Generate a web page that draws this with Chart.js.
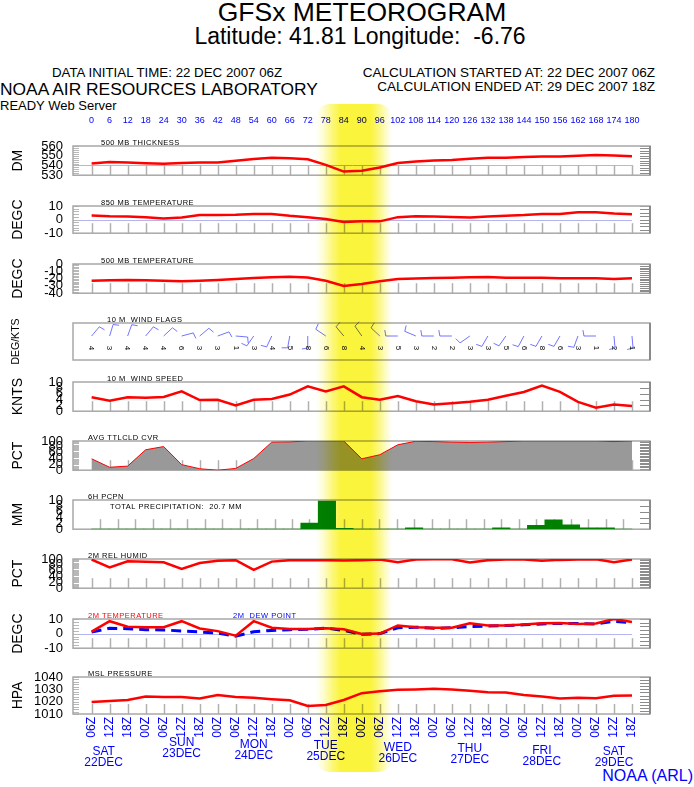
<!DOCTYPE html>
<html>
<head>
<meta charset="utf-8">
<title>GFSx METEOROGRAM</title>
<script src="https://cdn.jsdelivr.net/npm/chart.js@4.4.1/dist/chart.umd.min.js"></script>
<style>
  html, body { margin: 0; padding: 0; background: #fff; overflow: hidden; }
  #page { position: relative; width: 694px; height: 787px; overflow: hidden; font-family: "Liberation Sans", Arial, Helvetica, sans-serif; }
  .t { position: absolute; white-space: nowrap; line-height: 1; color: #000; }
  .panel { position: absolute; left: 0; width: 694px; }
  #band {
    position: absolute; left: 316px; width: 76px; top: 104px; height: 668px;
    border-radius: 14px; mix-blend-mode: multiply; pointer-events: none; z-index: 5;
    background: linear-gradient(to right, rgba(250,244,60,0) 0%, rgba(250,244,60,0.25) 10%, rgba(250,244,60,0.7) 22%, rgba(250,244,60,1) 33%, rgba(250,244,60,1) 72%, rgba(250,244,60,0.6) 84%, rgba(250,244,60,0.2) 94%, rgba(250,244,60,0) 100%);
  }
</style>
</head>
<body>
<div id="page">
  <div class="t" style="left:0;width:724px;text-align:center;top:-1px;font-size:26.5px;">GFSx METEOROGRAM</div>
  <div class="t" style="left:0;width:720px;text-align:center;top:24.5px;font-size:23px;">Latitude: 41.81 Longitude:&nbsp; -6.76</div>
  <div class="t" style="left:52px;top:65.5px;font-size:13.3px;">DATA INITIAL TIME: 22 DEC 2007 06Z</div>
  <div class="t" style="left:0;top:80.5px;font-size:17.4px;">NOAA AIR RESOURCES LABORATORY</div>
  <div class="t" style="left:0;top:98.5px;font-size:13px;">READY Web Server</div>
  <div class="t" style="right:39px;top:65.5px;font-size:13.5px;">CALCULATION STARTED AT: 22 DEC 2007 06Z</div>
  <div class="t" style="right:39px;top:79.5px;font-size:13.5px;">CALCULATION ENDED AT: 29 DEC 2007 18Z</div>
  <div class="t" style="right:1px;top:768px;font-size:16px;color:#0000ff;">NOAA (ARL)</div>
  <div id="band"></div>
</div>
<script>
// forecast hours, every 6 h from 22 DEC 06Z
const HOURS = [0, 6, 12, 18, 24, 30, 36, 42, 48, 54, 60, 66, 72, 78, 84, 90, 96, 102, 108, 114, 120, 126, 132, 138, 144, 150, 156, 162, 168, 174, 180];
const Z_LABELS = ["06Z", "12Z", "18Z", "00Z", "06Z", "12Z", "18Z", "00Z", "06Z", "12Z", "18Z", "00Z", "06Z", "12Z", "18Z", "00Z",
  "06Z", "12Z", "18Z", "00Z", "06Z", "12Z", "18Z", "00Z", "06Z", "12Z", "18Z", "00Z", "06Z", "12Z", "18Z"];
const DAY_NAMES = ["SAT", "SUN", "MON", "TUE", "WED", "THU", "FRI", "SAT"];
const DAY_DATES = ["22DEC", "23DEC", "24DEC", "25DEC", "26DEC", "27DEC", "28DEC", "29DEC"];
const DAY_HOURS = [4, 30, 54, 78, 102, 126, 150, 174];

const THICKNESS = [542.0, 543.6, 543.0, 542.2, 541.7, 542.5, 543.0, 543.0, 544.8, 546.7, 547.8, 547.5, 546.4, 540.6, 533.7,
  534.5, 538.0, 542.5, 544.0, 545.1, 545.6, 547.0, 547.8, 547.9, 548.6, 549.2, 549.2, 550.0, 550.7, 550.3, 549.5];
const T850 = [3.1, 2.4, 2.2, 1.8, 0.8, 1.6, 3.3, 3.3, 3.5, 4.1, 4.1, 2.8, 1.8, 0.5, -1.7,
  -1.3, -1.3, 1.8, 2.5, 2.3, 1.9, 1.6, 2.2, 2.8, 3.3, 4.1, 4.1, 5.4, 5.4, 4.5, 3.9];
const T500 = [-22.9, -22.2, -21.8, -22.2, -22.9, -23.6, -22.9, -21.8, -20.4, -19.3, -18.2, -17.5, -18.5, -22.9, -30.2,
  -27.3, -23.6, -20.7, -20.0, -19.3, -18.9, -18.2, -17.8, -18.9, -18.9, -18.9, -19.6, -19.6, -19.6, -20.7, -19.6];
const WIND_DIR = [40, 17, 20, 40, 47, 75, 50, 70, 95, 215, 205, 190, 180, 304, 320,
  325, 313, 270, 293, 270, 270, 235, 210, 215, 208, 210, 210, 200, 270, 175, 175];
const WIND_FLAG_LABELS = [4, 3, 4, 4, 4, 6, 3, 3, 1, 3, 4, 5, 8, 6, 8,
  4, 3, 5, 3, 2, 2, 3, 3, 5, 6, 8, 6, 3, 1, 2, 1];
const WIND_SPEED = [4.8, 3.6, 4.8, 4.6, 4.9, 6.8, 3.8, 3.9, 2.0, 3.9, 4.2, 5.7, 8.5, 6.8, 8.5,
  4.8, 3.9, 5.2, 3.4, 2.3, 2.7, 3.2, 3.9, 5.3, 6.6, 8.8, 6.6, 3.2, 1.2, 2.3, 1.8];
const CLOUD = [39, 10, 14, 70, 81, 19, 5, 0, 6, 40, 96, 97, 100, 100, 100,
  39, 53, 87, 99, 98, 96, 95, 96, 98, 100, 100, 100, 100, 100, 98, 100];
const PRECIP = [0, 0, 0, 0, 0, 0, 0, 0, 0, 0, 0, 0, 2.1, 9.6, 0.3,
  0, 0, 0, 0.5, 0, 0, 0, 0, 0.5, 0, 1.35, 3.2, 1.5, 0.5, 0.5, 0];
const RH = [98, 71, 92, 91, 89, 66, 86, 94, 96, 63, 91, 96, 96, 96, 95,
  96, 98, 89, 98, 99, 99, 88, 96, 98, 98, 94, 97, 98, 99, 89, 98];
const TEMP_2M = [1.3, 8.5, 4.7, 4.4, 4.4, 8.5, 3.5, 1.7, -1.4, 8.5, 4.0, 3.1, 3.1, 3.6, 3.0,
  -0.2, 0.0, 5.6, 4.4, 4.0, 4.0, 7.1, 5.5, 5.6, 6.2, 7.1, 7.3, 6.6, 6.9, 10.0, 8.0];
const DEW_2M = [1.0, 3.6, 3.4, 2.7, 2.5, 1.8, 1.1, 0.4, -1.8, 1.3, 2.2, 2.7, 2.9, 3.8, 2.2,
  -0.5, 0.0, 4.0, 4.4, 3.6, 4.0, 4.9, 5.2, 5.5, 6.0, 6.6, 7.0, 6.9, 6.6, 8.5, 7.4];
const MSLP = [1019.8, 1020.6, 1021.4, 1024.1, 1023.8, 1023.8, 1022.5, 1025.3, 1023.8, 1023.1, 1022.0, 1021.2, 1016.5, 1017.3, 1021.4,
  1026.9, 1028.5, 1029.6, 1029.9, 1030.4, 1029.9, 1028.8, 1027.7, 1027.4, 1025.5, 1024.1, 1022.5, 1023.1, 1022.8, 1024.7, 1025.0];

const FONT = '"Liberation Sans", Arial, Helvetica, sans-serif';
const BLUE = "#0000ff";
const RED = "#ff0000";
// vertical drop of the weekday labels below the last frame (they are staggered)
const DAY_DROP = [37.5, 29, 31, 31.5, 34, 35, 37, 38];

const pts = (arr) => HOURS.map((h, i) => ({ x: h, y: arr[i] }));
const redLine = (arr) => ({ data: pts(arr), borderColor: RED, borderWidth: 2.5, pointRadius: 0, tension: 0, fill: false });

function deco(cfg) {
  return {
    id: "deco",
    beforeDatasetsDraw(chart) {
      const { ctx, chartArea: a, scales: { x, y } } = chart;
      ctx.save();
      if (cfg.ref !== undefined) {
        const ry = Math.round(y.getPixelForValue(cfg.ref)) + 0.5;
        ctx.strokeStyle = "#b4b4ee";
        ctx.lineWidth = 1;
        ctx.beginPath();
        ctx.moveTo(a.left, ry);
        ctx.lineTo(x.getPixelForValue(180), ry);
        ctx.stroke();
      }
      if (cfg.hourTicks !== false) {
        ctx.strokeStyle = "#b0b0b0";
        ctx.lineWidth = 1.5;
        HOURS.forEach((h) => {
          const px = Math.round(x.getPixelForValue(h)) + 0.5;
          ctx.beginPath();
          ctx.moveTo(px, a.bottom);
          ctx.lineTo(px, a.bottom - 10);
          ctx.stroke();
        });
      }
      const side = (step, x0, len, color) => {
        if (!step) return;
        ctx.strokeStyle = color;
        ctx.lineWidth = 1;
        for (let v = cfg.min; v <= cfg.max + 1e-6; v += step) {
          const py = Math.round(y.getPixelForValue(v)) + 0.5;
          ctx.beginPath();
          ctx.moveTo(x0, py);
          ctx.lineTo(x0 + len, py);
          ctx.stroke();
        }
      };
      side(cfg.leftMinor, a.left, 6, "#b8b8b8");
      side(cfg.rightMinor, a.right - 10, 10, "#8c8c8c");
      ctx.strokeStyle = "#a8a8a8";
      ctx.lineWidth = 1.5;
      ctx.strokeRect(a.left, a.top, a.right - a.left, a.bottom - a.top);
      ctx.strokeStyle = "#8a8a8a";
      ctx.lineWidth = 2;
      ctx.beginPath();
      ctx.moveTo(a.right, a.top);
      ctx.lineTo(a.right, a.bottom);
      ctx.stroke();
      ctx.restore();
    },
    afterDatasetsDraw(chart) {
      const { ctx, chartArea: a, scales: { x } } = chart;
      ctx.save();
      ctx.textBaseline = "alphabetic";
      ctx.textAlign = "left";
      ctx.letterSpacing = "0.5px";
      (cfg.labels || []).forEach((l) => {
        ctx.fillStyle = l.color || "#000";
        ctx.font = (l.size || 7.5) + "px " + FONT;
        ctx.fillText(l.text, a.left + l.dx, a.top + l.dy);
      });
      ctx.letterSpacing = "0px";

      if (cfg.topHours) {
        ctx.font = "9px " + FONT;
        ctx.fillStyle = BLUE;
        ctx.textAlign = "center";
        ctx.textBaseline = "middle";
        HOURS.forEach((h) => ctx.fillText(String(h), x.getPixelForValue(h), a.top - 25));
      }

      if (cfg.winds) {
        ctx.strokeStyle = "rgba(70,70,255,0.75)";
        ctx.lineWidth = 1;
        HOURS.forEach((h, i) => {
          const bx = x.getPixelForValue(h), by = a.top + 13;
          const t = WIND_DIR[i] * Math.PI / 180;
          const ex = bx + 12 * Math.sin(t), ey = by - 12 * Math.cos(t);
          const t2 = t + 80 * Math.PI / 180;
          ctx.beginPath();
          ctx.moveTo(bx, by);
          ctx.lineTo(ex, ey);
          ctx.lineTo(ex + 6 * Math.sin(t2), ey - 6 * Math.cos(t2));
          ctx.stroke();
        });
        ctx.fillStyle = "#000";
        ctx.font = "8px " + FONT;
        ctx.textAlign = "center";
        ctx.textBaseline = "middle";
        HOURS.forEach((h, i) => {
          ctx.save();
          ctx.translate(x.getPixelForValue(h), a.top + 25);
          ctx.rotate(Math.PI / 2);
          ctx.fillText(String(WIND_FLAG_LABELS[i]), 0, 0);
          ctx.restore();
        });
      }

      if (cfg.days) {
        ctx.fillStyle = BLUE;
        ctx.font = "12px " + FONT;
        ctx.textAlign = "center";
        ctx.textBaseline = "middle";
        DAY_HOURS.forEach((h, i) => {
          const px = x.getPixelForValue(h);
          ctx.fillText(DAY_NAMES[i], px, a.bottom + DAY_DROP[i]);
          ctx.fillText(DAY_DATES[i], px, a.bottom + DAY_DROP[i] + 11);
        });
      }
      ctx.restore();
    },
  };
}

function makePanel(cfg) {
  const padTop = cfg.padTop || 22;
  const bottom = cfg.bottom || 10;
  const div = document.createElement("div");
  div.className = "panel";
  div.style.top = cfg.top - padTop + "px";
  div.style.height = padTop + cfg.h + bottom + "px";
  const canvas = document.createElement("canvas");
  div.appendChild(canvas);
  document.getElementById("page").appendChild(div);

  return new Chart(canvas, {
    type: cfg.type || "line",
    data: { datasets: cfg.datasets || [] },
    options: {
      responsive: true,
      maintainAspectRatio: false,
      animation: false,
      events: [],
      layout: { padding: { top: padTop, right: 44, bottom: cfg.xLabels ? 0 : bottom, left: 0 } },
      plugins: { legend: { display: false }, tooltip: { enabled: false } },
      scales: {
        x: {
          type: "linear",
          min: -6.2,
          max: 186,
          display: !!cfg.xLabels,
          afterBuildTicks: (s) => { s.ticks = HOURS.map((v) => ({ value: v })); },
          afterFit: (s) => { if (cfg.xLabels) s.height = bottom; },
          grid: { display: false, drawTicks: false },
          border: { display: false },
          ticks: {
            autoSkip: false, minRotation: 90, maxRotation: 90, padding: 3, color: BLUE,
            font: { size: 12, family: FONT }, callback: (v, i) => Z_LABELS[i],
          },
        },
        y: {
          type: "linear",
          min: cfg.min,
          max: cfg.max,
          afterFit: (s) => { s.width = 73; },
          grid: { display: false, drawTicks: false },
          border: { display: false },
          ticks: {
            display: cfg.step !== undefined, stepSize: cfg.step, autoSkip: false, padding: 10,
            color: "#000", font: { size: 13, family: FONT }, callback: (v) => String(v),
          },
          title: {
            display: true, text: cfg.unit, color: "#000",
            font: { size: cfg.unitSize || 14, family: FONT }, padding: { top: 10, bottom: 0 },
          },
        },
      },
    },
    plugins: [deco(cfg)],
  });
}

makePanel({
  top: 146, h: 37, padTop: 46, min: 530, max: 560, step: 10, unit: "DM", ref: 540, topHours: true,
  leftMinor: 2, rightMinor: 2.5,
  labels: [{ text: "500 MB THICKNESS", dx: 28, dy: -1 }],
  datasets: [redLine(THICKNESS)],
});
makePanel({
  top: 206, h: 35, min: -10, max: 10, step: 10, unit: "DEGC", ref: 0,
  leftMinor: 2, rightMinor: 2.5,
  labels: [{ text: "850 MB TEMPERATURE", dx: 28, dy: -1 }],
  datasets: [redLine(T850)],
});
makePanel({
  top: 264, h: 37, min: -40, max: 0, step: 10, unit: "DEGC",
  leftMinor: 2, rightMinor: 2.5,
  labels: [{ text: "500 MB TEMPERATURE", dx: 28, dy: -1 }],
  datasets: [redLine(T500)],
});
makePanel({
  top: 323, h: 37, min: 0, max: 1, unit: "DEG/KTS", unitSize: 10.5, hourTicks: false, winds: true,
  labels: [{ text: "10 M  WIND FLAGS", dx: 34, dy: -1 }],
});
makePanel({
  top: 382, h: 37, min: 0, max: 10, step: 2, unit: "KNTS",
  rightMinor: 2,
  labels: [{ text: "10 M  WIND SPEED", dx: 34, dy: -1 }],
  datasets: [redLine(WIND_SPEED)],
});
makePanel({
  top: 441, h: 37, min: 0, max: 100, step: 20, unit: "PCT",
  leftMinor: 4, rightMinor: 5,
  labels: [{ text: "AVG TTLCLD CVR", dx: 15, dy: -1 }],
  datasets: [{ data: pts(CLOUD), borderColor: RED, borderWidth: 1, backgroundColor: "#999999", fill: "origin", pointRadius: 0, tension: 0 }],
});
makePanel({
  top: 500, h: 37, min: 0, max: 10, step: 2, unit: "MM", type: "bar",
  rightMinor: 2,
  labels: [
    { text: "6H PCPN", dx: 15, dy: -1 },
    { text: "TOTAL PRECIPITATION:  20.7 MM", dx: 37, dy: 8.5, size: 7.5 },
  ],
  datasets: [{ data: pts(PRECIP), backgroundColor: "#008000", borderColor: "#004000", borderWidth: 0, barPercentage: 1, categoryPercentage: 1 }],
});
makePanel({
  top: 559, h: 37, min: 0, max: 100, step: 20, unit: "PCT",
  leftMinor: 4, rightMinor: 5,
  labels: [{ text: "2M REL HUMID", dx: 15, dy: -1 }],
  datasets: [redLine(RH)],
});
makePanel({
  top: 619, h: 37, min: -10, max: 10, step: 10, unit: "DEGC", ref: 0,
  leftMinor: 2, rightMinor: 2.5,
  labels: [
    { text: "2M TEMPERATURE", dx: 15, dy: -1, color: RED },
    { text: "2M  DEW POINT", dx: 160, dy: -1, color: BLUE },
  ],
  datasets: [
    redLine(TEMP_2M),
    { data: pts(DEW_2M), borderColor: BLUE, borderWidth: 3, borderDash: [10, 6], pointRadius: 0, tension: 0, fill: false },
  ],
});
makePanel({
  top: 677, h: 37, bottom: 73, min: 1010, max: 1040, step: 10, unit: "HPA", xLabels: true, days: true,
  leftMinor: 2, rightMinor: 2.5,
  labels: [{ text: "MSL PRESSURE", dx: 15, dy: -1 }],
  datasets: [redLine(MSLP)],
});
</script>
</body>
</html>
